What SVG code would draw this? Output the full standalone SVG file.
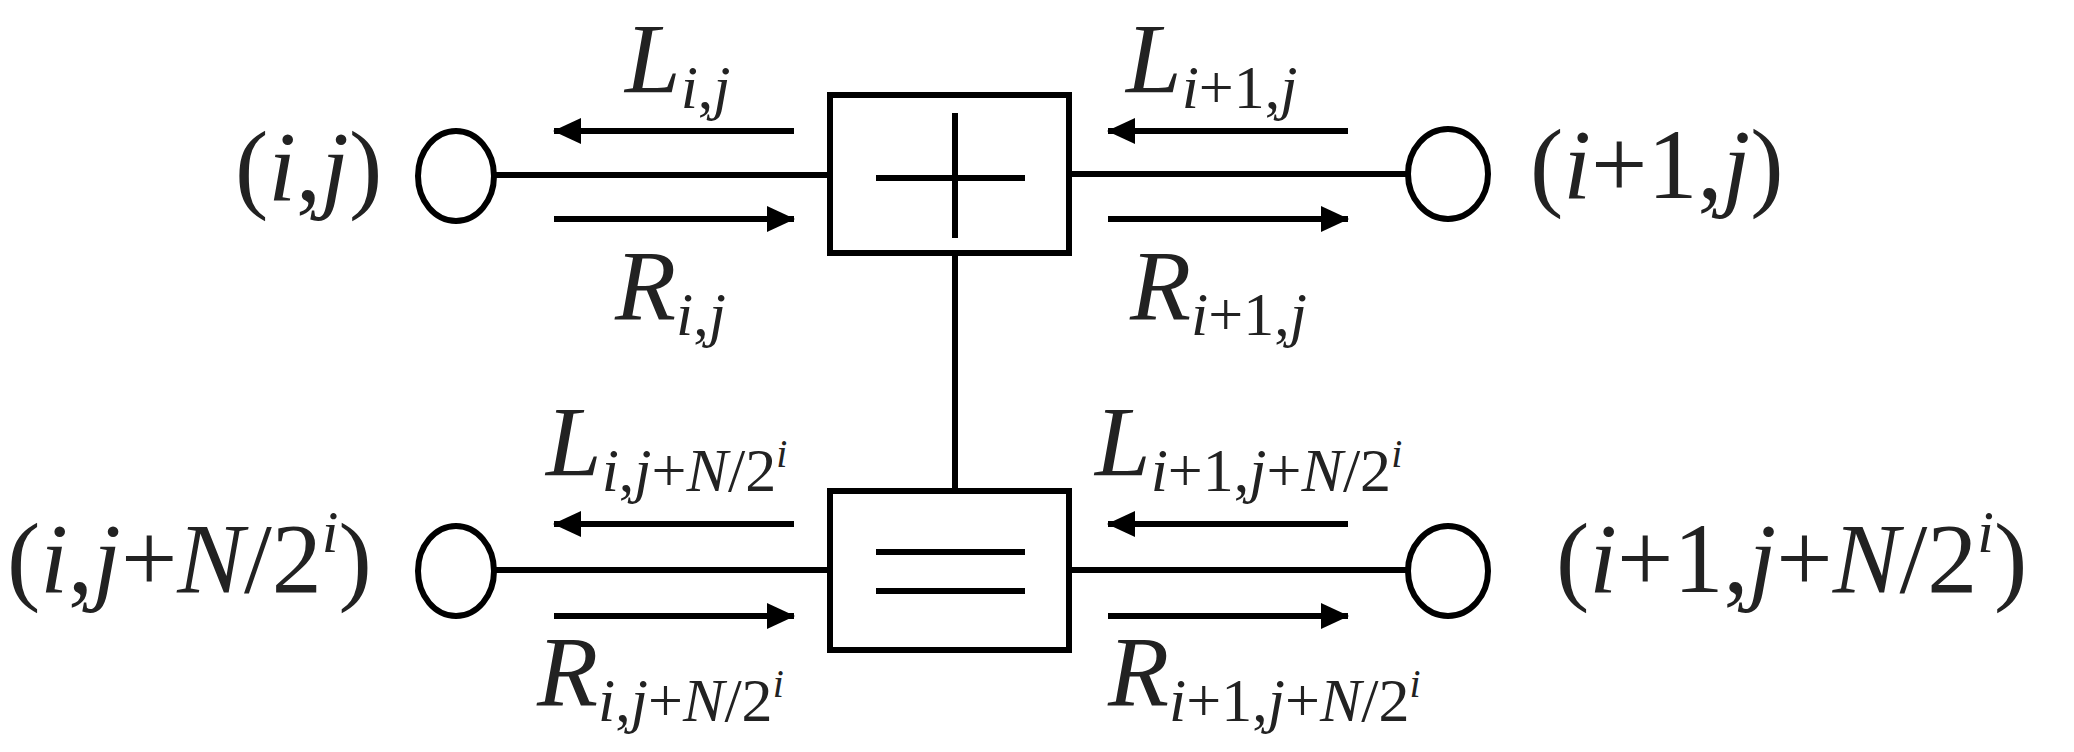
<svg xmlns="http://www.w3.org/2000/svg" width="2074" height="752" viewBox="0 0 2074 752">
<defs>
<marker id="a" markerWidth="28" markerHeight="26" refX="27" refY="13" orient="auto" markerUnits="userSpaceOnUse"><path d="M0,0 L28,13 L0,26 z" fill="#000"/></marker>
</defs>
<style>
.s{stroke:#000;stroke-width:6;fill:none}
.t{font-family:"Liberation Serif","Times New Roman",serif;font-size:100px;fill:#222}
.i{font-style:italic}
.sub{font-size:62px}
</style>
<rect width="2074" height="752" fill="#fff"/>
<g id="adder"><rect class="s" x="830" y="95" width="239" height="158"/><line class="s" x1="876" y1="178" x2="1025" y2="178"/><line class="s" x1="955" y1="113" x2="955" y2="238"/></g>
<g id="equal"><rect class="s" x="830" y="491" width="239" height="159"/><line class="s" x1="876" y1="552" x2="1025" y2="552"/><line class="s" x1="876" y1="591" x2="1025" y2="591"/></g>
<g id="n1"><ellipse class="s" cx="456" cy="176" rx="38" ry="45"/></g>
<g id="n2"><ellipse class="s" cx="1448" cy="174" rx="40" ry="45"/></g>
<g id="n3"><ellipse class="s" cx="456" cy="571" rx="38" ry="45"/></g>
<g id="n4"><ellipse class="s" cx="1448" cy="571" rx="40" ry="45"/></g>
<g id="connectors">
<line class="s" x1="494" y1="175" x2="830" y2="175"/>
<line class="s" x1="1069" y1="174" x2="1408" y2="174"/>
<line class="s" x1="494" y1="570" x2="830" y2="570"/>
<line class="s" x1="1069" y1="570" x2="1408" y2="570"/>
<line class="s" x1="955" y1="253" x2="955" y2="491"/>
<line class="s" x1="794" y1="131" x2="554" y2="131" marker-end="url(#a)"/>
<line class="s" x1="554" y1="219" x2="794" y2="219" marker-end="url(#a)"/>
<line class="s" x1="794" y1="524" x2="554" y2="524" marker-end="url(#a)"/>
<line class="s" x1="554" y1="616" x2="794" y2="616" marker-end="url(#a)"/>
<line class="s" x1="1348" y1="131" x2="1108" y2="131" marker-end="url(#a)"/>
<line class="s" x1="1108" y1="219" x2="1348" y2="219" marker-end="url(#a)"/>
<line class="s" x1="1348" y1="524" x2="1108" y2="524" marker-end="url(#a)"/>
<line class="s" x1="1108" y1="616" x2="1348" y2="616" marker-end="url(#a)"/>
</g>
<g id="labels" class="t">
<text x="235" y="200">(<tspan class="i">i</tspan>,<tspan class="i">j</tspan>)</text>
<text x="1530" y="198">(<tspan class="i">i</tspan>+1,<tspan class="i">j</tspan>)</text>
<text x="7" y="592">(<tspan class="i">i</tspan>,<tspan class="i">j</tspan>+<tspan class="i">N</tspan>/2<tspan font-size="60" class="i" dy="-40">i</tspan><tspan dy="40">)</tspan></text>
<text x="1556" y="592">(<tspan class="i">i</tspan>+1,<tspan class="i">j</tspan>+<tspan class="i">N</tspan>/2<tspan font-size="60" class="i" dy="-40">i</tspan><tspan dy="40">)</tspan></text>
<text x="625" y="92"><tspan class="i">L</tspan><tspan class="sub" dy="16"><tspan class="i">i</tspan>,<tspan class="i">j</tspan></tspan></text>
<text x="615" y="319"><tspan class="i">R</tspan><tspan class="sub" dy="16"><tspan class="i">i</tspan>,<tspan class="i">j</tspan></tspan></text>
<text x="1126" y="92"><tspan class="i">L</tspan><tspan class="sub" dy="16"><tspan class="i">i</tspan>+1,<tspan class="i">j</tspan></tspan></text>
<text x="1130" y="319"><tspan class="i">R</tspan><tspan class="sub" dy="16"><tspan class="i">i</tspan>+1,<tspan class="i">j</tspan></tspan></text>
<text x="546" y="475"><tspan class="i">L</tspan><tspan class="sub" dy="16"><tspan class="i">i</tspan>,<tspan class="i">j</tspan>+<tspan class="i">N</tspan>/2<tspan class="i" font-size="40" dy="-24">i</tspan></tspan></text>
<text x="537" y="705"><tspan class="i">R</tspan><tspan class="sub" dy="16"><tspan class="i">i</tspan>,<tspan class="i">j</tspan>+<tspan class="i">N</tspan>/2<tspan class="i" font-size="40" dy="-24">i</tspan></tspan></text>
<text x="1095" y="475"><tspan class="i">L</tspan><tspan class="sub" dy="16"><tspan class="i">i</tspan>+1,<tspan class="i">j</tspan>+<tspan class="i">N</tspan>/2<tspan class="i" font-size="40" dy="-24">i</tspan></tspan></text>
<text x="1108" y="705"><tspan class="i">R</tspan><tspan class="sub" dy="16"><tspan class="i">i</tspan>+1,<tspan class="i">j</tspan>+<tspan class="i">N</tspan>/2<tspan class="i" font-size="40" dy="-24">i</tspan></tspan></text>
</g>
</svg>
